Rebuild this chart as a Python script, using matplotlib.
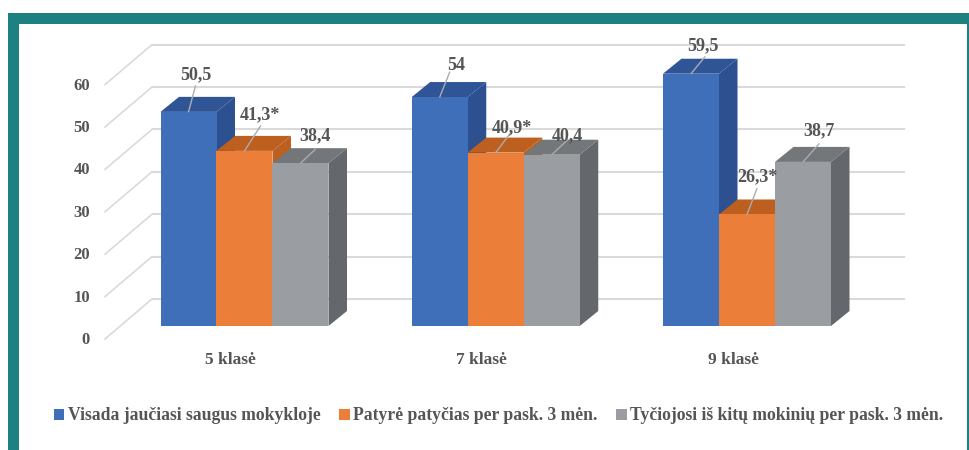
import numpy as np
import matplotlib
matplotlib.use('Agg')
import matplotlib.pyplot as plt
from matplotlib.patches import Polygon, Rectangle

# duomenys
classes = ['5 klasė', '7 klasė', '9 klasė']
saugus = [50.5, 54, 59.5]
patyre = [41.3, 40.9, 26.3]
tyciojosi = [38.4, 40.4, 38.7]

saugus_labels = ['50,5', '54', '59,5']
patyre_labels = ['41,3*', '40,9*', '26,3*']
tyciojosi_labels = ['38,4', '40,4', '38,7']

series_names = ['Visada jaučiasi saugus mokykloje',
                'Patyrė patyčias per pask. 3 mėn.',
                'Tyčiojosi iš kitų mokinių per pask. 3 mėn.']
y_ticks = [0, 10, 20, 30, 40, 50, 60]

# spalvos: priekis, viršus, šonas
front_colors = ['#3F6FB9', '#EB7E38', '#9A9DA1']
top_colors = ['#2F5596', '#BD5F1E', '#73777A']
side_colors = ['#2D5090', '#BD5F1E', '#64676B']
text_color = '#555555'
grid_color = '#DADADA'
frame_color = '#1C8180'

# teksto ir linijos poslinkiai nuo stulpelio viršaus (px)
text_offsets = [[(7, 37), (15, 36), (15, 27)],
                [(16, 32), (16, 25), (16, 19)],
                [(12, 28), (10, 38), (16, 31)]]
line_offsets = [[(7, 26), (16, 25), (15, 14)],
                [(10, 25), (15, 20), (16, 15)],
                [(14, 17), (10, 26), (16, 18)]]

plt.rcParams['font.family'] = ['Liberation Serif', 'DejaVu Serif']

fig = plt.figure(figsize=(9.69, 4.5), dpi=100)
ax = fig.add_axes([0, 0, 1, 1])

# ašių skalė: viena grupė 251.25 px, vienas vienetas 4.24 px
ax.set_xlim(-244.5 / 251.25, (969 - 244.5) / 251.25)
ax.set_ylim((326 - 450) / 4.24, 326 / 4.24)
ax.axis('off')

px = 1 / 251.25
py = 1 / 4.24
bar_w = 56 * px
depth_x = 18.5 * px
depth_y = 15 * py

# rėmelis
fig.add_artist(Rectangle((8 / 969, 0), 961 / 969, 437 / 450, transform=fig.transFigure,
                         facecolor=frame_color, edgecolor='none', zorder=-5))
fig.add_artist(Rectangle((19 / 969, 0), 948 / 969, 426 / 450, transform=fig.transFigure,
                         facecolor='white', edgecolor='none', zorder=-4))

# tinklelis ir įstrižos linijos
wall_left = (152 - 244.5) * px
wall_right = (905 - 244.5) * px
floor_left = (105 - 244.5) * px
wall_shift = 27 * py
diag_shift = 40 * py
for v in y_ticks:
    back_y = v + wall_shift
    ax.plot([wall_left, wall_right], [back_y, back_y], color=grid_color, lw=1.5, zorder=1,
            solid_capstyle='butt')
    ax.plot([floor_left, wall_left], [back_y - diag_shift, back_y], color=grid_color, lw=1.2,
            zorder=1)
    ax.text((90 - 244.5) * px, back_y - diag_shift - 1 * py, str(v), ha='right', va='center',
            fontsize=12, fontweight='bold', color=text_color, zorder=2)

# stulpeliai
x = np.arange(len(classes))
all_values = [saugus, patyre, tyciojosi]
all_labels = [saugus_labels, patyre_labels, tyciojosi_labels]
handles = []
z = 3
for i in range(len(classes)):
    for s in range(3):
        value = all_values[s][i]
        left = x[i] + (s - 1.5) * bar_w
        right = left + bar_w
        bar = ax.bar(left, value, width=bar_w, align='edge', color=front_colors[s], zorder=z + 2)
        ax.add_patch(Polygon([(right, 0), (right + depth_x, depth_y),
                              (right + depth_x, value + depth_y), (right, value)],
                             facecolor=side_colors[s], edgecolor='none', zorder=z))
        ax.add_patch(Polygon([(left, value), (left + depth_x, value + depth_y),
                              (right + depth_x, value + depth_y), (right, value)],
                             facecolor=top_colors[s], edgecolor='none', zorder=z + 1))
        z += 3
        if i == 0:
            handles.append(bar[0])

# reikšmės su linijomis
for i in range(len(classes)):
    for s in range(3):
        anchor = (x[i] + (s - 1) * bar_w, all_values[s][i])
        ax.annotate('', xy=anchor, xytext=line_offsets[i][s], textcoords='offset pixels',
                    arrowprops=dict(arrowstyle='-', color='#A9ADB0', lw=1, shrinkA=0, shrinkB=0),
                    zorder=60)
        ax.annotate(all_labels[s][i], xy=anchor, xytext=text_offsets[i][s],
                    textcoords='offset pixels', ha='center', va='center', fontsize=13,
                    fontweight='bold', color=text_color, zorder=61)

# grupių pavadinimai
for i, name in enumerate(classes):
    ax.text(x[i] - 14 * px, -(360 - 326) * py, name, ha='center', va='center', fontsize=12.5,
            fontweight='bold', color=text_color)

# legenda
ax.legend(handles, series_names, loc='center', ncol=3, frameon=False,
          bbox_to_anchor=(498.5 / 969, (450 - 416) / 450), prop={'size': 12.7, 'weight': 'bold'},
          labelcolor=text_color, handlelength=0.6, handleheight=0.6, handletextpad=0.2,
          columnspacing=1.05)

plt.savefig('out.png', dpi=100)
